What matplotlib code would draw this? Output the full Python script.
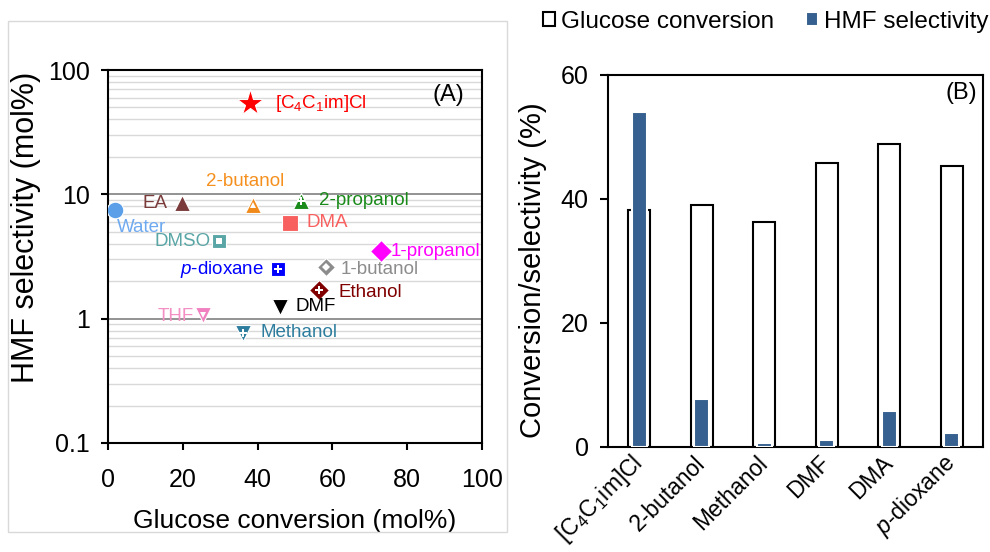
import matplotlib
matplotlib.use("Agg")
import matplotlib.pyplot as plt
import matplotlib.transforms as mtransforms
from matplotlib.patches import Rectangle
from matplotlib.ticker import NullFormatter

plt.rcParams["font.family"] = ["Liberation Sans", "DejaVu Sans"]
plt.rcParams["mathtext.fontset"] = "custom"
plt.rcParams["mathtext.rm"] = "Liberation Sans"
plt.rcParams["mathtext.it"] = "Liberation Sans:italic"

# ── (A) glucose conversion vs HMF selectivity, one point per solvent ─────────
solvents = ["[$\\mathregular{C_4C_1}$im]Cl", "Water", "EA", "2-butanol", "2-propanol",
            "DMA", "DMSO", "1-propanol", "$\\mathit{p}$-dioxane", "1-butanol",
            "Ethanol", "DMF", "THF", "Methanol"]
glc_conv = [38.0, 1.9, 19.7, 38.8, 51.6, 48.7, 29.8, 73.1, 45.5, 58.2, 56.4, 46.0, 25.3, 36.2]
hmf_sel = [54.0, 7.5, 8.5, 8.2, 8.9, 5.9, 4.2, 3.5, 2.5, 2.6, 1.7, 1.25, 1.08, 0.77]

# ── (B) selected solvents ─────────────────────────────────────────────────────
bar_solvents = ["[$\\mathregular{C_4C_1}$im]Cl", "2-butanol", "Methanol", "DMF", "DMA",
                "$\\mathit{p}$-dioxane"]
bar_conv = [38.2, 39.0, 36.3, 45.8, 48.8, 45.3]
bar_sel = [54.0, 7.8, 0.6, 1.2, 5.8, 2.3]

# marker, size, colour, inner white mark (marker, size), label colour, label offset (pt), ha
styles = [
    ("*", 20, "#FF0000", None, "#FF0000", (18, 0), "left"),
    ("o", 12, "#5B9FE8", None, "#6FAAF0", (1, -13), "left"),
    ("^", 12, "#7B3B3B", None, "#7B3B3B", (-10, 0), "right"),
    ("^", 12, "#F08A1A", ("^", 5), "#F5901E", (-6, 17), "center"),
    ("^", 12, "#1A8A1A", ("P", 6), "#1A8A1A", (13, 0), "left"),
    ("s", 11.5, "#F8605F", None, "#F8605F", (12, 0), "left"),
    ("s", 10.5, "#5AA6A6", ("s", 5), "#5AA6A6", (-6, 0), "right"),
    ("D", 11, "#FF00FF", None, "#FF00FF", (7, 0), "left"),
    ("s", 10.5, "#0000FF", ("P", 6), "#0000FF", (-10, 0), "right"),
    ("D", 9, "#8C8C8C", ("D", 4), "#8C8C8C", (11, -1.5), "left"),
    ("D", 10, "#800000", ("P", 6), "#800000", (14, -2), "left"),
    ("v", 12, "#000000", None, "#000000", (11, 0), "left"),
    ("v", 12, "#F080C0", ("v", 5), "#F48FC4", (-6, -1.5), "right"),
    ("v", 12, "#2E7D9E", ("P", 6), "#2E7D9E", (12, 0), "left"),
]

fig = plt.figure(figsize=(9.9, 5.52), dpi=100)
W, H = 990, 552

# light chart-area frame around panel A
fig.patches.append(Rectangle((8 / W, 1 - 532 / H), 499 / W, 511 / H, transform=fig.transFigure,
                             fill=False, edgecolor="#D9D9D9", linewidth=1))

axA = fig.add_axes([108 / W, 1 - 443 / H, 374 / W, 373 / H])
axA.set_yscale("log")
axA.set_xlim(0, 100)
axA.set_ylim(0.1, 100)
axA.set_xticks([0, 20, 40, 60, 80, 100])
axA.set_yticks([0.1, 1, 10, 100])
axA.set_yticklabels(["0.1", "1", "10", "100"])
axA.yaxis.set_minor_formatter(NullFormatter())
axA.tick_params(axis="x", which="major", direction="out", length=5, width=1.5, labelsize=18, pad=13)
axA.tick_params(axis="y", which="major", direction="out", length=5, width=1.5, labelsize=18, pad=8)
axA.tick_params(which="minor", length=0)
axA.yaxis.grid(True, which="minor", color="#D9D9D9", linewidth=1)
axA.yaxis.grid(True, which="major", color="#808080", linewidth=1.2)
axA.set_axisbelow(True)
for sp in axA.spines.values():
    sp.set_linewidth(1.5)
axA.set_xlabel("Glucose conversion (mol%)", fontsize=19, labelpad=12)
axA.set_ylabel("HMF selectivity (mol%)", fontsize=22, va="center")
axA.yaxis.set_label_coords(-0.219, 0.578)

for name, x, y, st in zip(solvents, glc_conv, hmf_sel, styles):
    mk, ms, col, inner, lcol, off, ha = st
    axA.plot(x, y, marker=mk, markersize=ms, color=col, markeredgecolor="white",
             markeredgewidth=0.8, linestyle="none", zorder=3)
    if inner is not None:
        axA.plot(x, y, marker=inner[0], markersize=inner[1], color="white",
                 markeredgewidth=0, linestyle="none", zorder=4)
    axA.annotate(name, (x, y), xytext=off, textcoords="offset points", ha=ha, va="center",
                 color=lcol, fontsize=13.5, zorder=5)

axA.text(0.909, 0.933, "(A)", transform=axA.transAxes, ha="center", va="center", fontsize=17)

# ── panel B: overlaid bars ────────────────────────────────────────────────────
axB = fig.add_axes([608 / W, 1 - 447 / H, 375 / W, 372 / H])
pos = range(len(bar_solvents))
b1 = axB.bar(pos, bar_conv, width=0.35, facecolor="white", edgecolor="black", linewidth=1.5,
             zorder=2, label="Glucose conversion")
b2 = axB.bar(pos, bar_sel, width=0.24, facecolor="#36608F", edgecolor="white", linewidth=1.5,
             zorder=3, label="HMF selectivity")
axB.set_xlim(-0.5, len(bar_solvents) - 0.5)
axB.set_ylim(0, 60)
axB.set_yticks([0, 20, 40, 60])
axB.set_xticks(list(pos))
axB.set_xticklabels(bar_solvents, rotation=45, ha="right", va="center", rotation_mode="anchor")
shift = mtransforms.ScaledTranslation(6 / 72, 0, fig.dpi_scale_trans)
for lbl in axB.get_xticklabels():
    lbl.set_transform(lbl.get_transform() + shift)
axB.tick_params(axis="x", length=0, labelsize=16.5, pad=9)
axB.tick_params(axis="y", direction="out", length=6, width=1.5, labelsize=18, pad=8)
for sp in axB.spines.values():
    sp.set_linewidth(1.5)
axB.set_ylabel("Conversion/selectivity (%)", fontsize=21, va="center")
axB.yaxis.set_label_coords(-0.2, 0.476)
axB.text(0.941, 0.952, "(B)", transform=axB.transAxes, ha="center", va="center", fontsize=17)

fig.legend(handles=[b1, b2], loc="upper left", bbox_to_anchor=(543 / W, 1 - 11 / H),
           ncol=2, frameon=False, fontsize=17.5, borderpad=0, borderaxespad=0,
           handlelength=0.5, handleheight=0.5, handletextpad=0.25, columnspacing=1.3)

fig.savefig("out.png", dpi=100)
